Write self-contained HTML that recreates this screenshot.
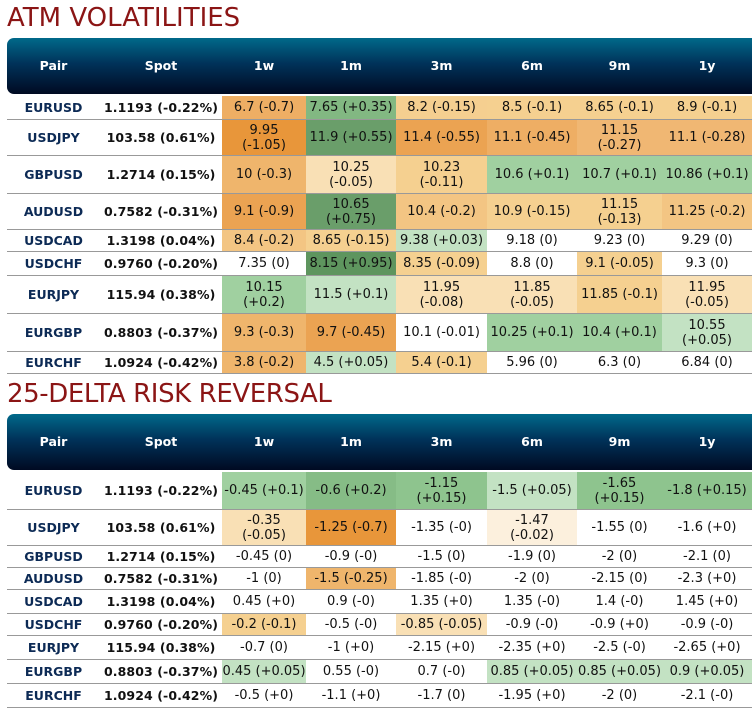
<!DOCTYPE html>
<html><head><meta charset="utf-8"><style>
body{margin:0;width:752px;height:710px;background:#fff;position:relative;overflow:hidden;font-family:"DejaVu Sans","Liberation Sans",sans-serif;}
.title{position:absolute;left:7px;color:#8b1515;font-size:26px;line-height:30px;white-space:nowrap;}
.hdr{position:absolute;left:7px;width:760px;height:56px;border-radius:7px;background:linear-gradient(#00698a,#00335a 45%,#000a22);}
.hc{position:absolute;top:0;height:56px;line-height:56px;text-align:center;color:#fff;font-weight:bold;font-size:12.5px;}
.row{position:absolute;left:7px;width:745px;border-bottom:1px solid #999;box-sizing:border-box;}
.c{position:absolute;top:0;bottom:0;display:flex;align-items:center;justify-content:center;text-align:center;font-size:13px;letter-spacing:0;line-height:15px;color:#111;white-space:nowrap;}
.pair{font-weight:bold;color:#0c2a55;font-size:12.5px;letter-spacing:0;}
.spot{font-weight:bold;font-size:12.5px;letter-spacing:0.1px;}
</style></head><body>
<div class="title" style="top:3px">ATM VOLATILITIES</div>
<div class="title" style="top:379px;letter-spacing:-0.4px">25-DELTA RISK REVERSAL</div>
<script>
const pairs=["EURUSD","USDJPY","GBPUSD","AUDUSD","USDCAD","USDCHF","EURJPY","EURGBP","EURCHF"];
const spots=["1.1193 (-0.22%)","103.58 (0.61%)","1.2714 (0.15%)","0.7582 (-0.31%)","1.3198 (0.04%)","0.9760 (-0.20%)","115.94 (0.38%)","0.8803 (-0.37%)","1.0924 (-0.42%)"];
const tenors=["1w","1m","3m","6m","9m","1y"];
const atm=[
["6.7 (-0.7)","7.65 (+0.35)","8.2 (-0.15)","8.5 (-0.1)","8.65 (-0.1)","8.9 (-0.1)"],
["9.95|(-1.05)","11.9 (+0.55)","11.4 (-0.55)","11.1 (-0.45)","11.15|(-0.27)","11.1 (-0.28)"],
["10 (-0.3)","10.25|(-0.05)","10.23|(-0.11)","10.6 (+0.1)","10.7 (+0.1)","10.86 (+0.1)"],
["9.1 (-0.9)","10.65|(+0.75)","10.4 (-0.2)","10.9 (-0.15)","11.15|(-0.13)","11.25 (-0.2)"],
["8.4 (-0.2)","8.65 (-0.15)","9.38 (+0.03)","9.18 (0)","9.23 (0)","9.29 (0)"],
["7.35 (0)","8.15 (+0.95)","8.35 (-0.09)","8.8 (0)","9.1 (-0.05)","9.3 (0)"],
["10.15|(+0.2)","11.5 (+0.1)","11.95|(-0.08)","11.85|(-0.05)","11.85 (-0.1)","11.95|(-0.05)"],
["9.3 (-0.3)","9.7 (-0.45)","10.1 (-0.01)","10.25 (+0.1)","10.4 (+0.1)","10.55|(+0.05)"],
["3.8 (-0.2)","4.5 (+0.05)","5.4 (-0.1)","5.96 (0)","6.3 (0)","6.84 (0)"]];
const atmColors=[
["#eeae64","#82b882","#f5cf90","#f5d090","#f5d090","#f5d090"],
["#e8963a","#6a9e6a","#eba352","#eeae64","#f0b773","#f0b773"],
["#efb56c","#f9e0b5","#f5d090","#a0d0a0","#a0d0a0","#a0d0a0"],
["#eba352","#6a9e6a","#f3c583","#f5d090","#f5d090","#f3c583"],
["#f3c583","#f5d090","#c3e2c3","#fff","#fff","#fff"],
["#fff","#5e955e","#f5d090","#fff","#f5d090","#fff"],
["#a0d0a0","#c3e2c3","#f9e0b5","#f9e0b5","#f5d090","#f9e0b5"],
["#efb56c","#eba352","#fff","#a0d0a0","#a0d0a0","#c3e2c3"],
["#efb56c","#c3e2c3","#f5d090","#fff","#fff","#fff"]];
const rr=[
["-0.45 (+0.1)","-0.6 (+0.2)","-1.15|(+0.15)","-1.5 (+0.05)","-1.65|(+0.15)","-1.8 (+0.15)"],
["-0.35|(-0.05)","-1.25 (-0.7)","-1.35 (-0)","-1.47|(-0.02)","-1.55 (0)","-1.6 (+0)"],
["-0.45 (0)","-0.9 (-0)","-1.5 (0)","-1.9 (0)","-2 (0)","-2.1 (0)"],
["-1 (0)","-1.5 (-0.25)","-1.85 (-0)","-2 (0)","-2.15 (0)","-2.3 (+0)"],
["0.45 (+0)","0.9 (-0)","1.35 (+0)","1.35 (-0)","1.4 (-0)","1.45 (+0)"],
["-0.2 (-0.1)","-0.5 (-0)","-0.85 (-0.05)","-0.9 (-0)","-0.9 (+0)","-0.9 (-0)"],
["-0.7 (0)","-1 (+0)","-2.15 (+0)","-2.35 (+0)","-2.5 (-0)","-2.65 (+0)"],
["0.45 (+0.05)","0.55 (-0)","0.7 (-0)","0.85 (+0.05)","0.85 (+0.05)","0.9 (+0.05)"],
["-0.5 (+0)","-1.1 (+0)","-1.7 (0)","-1.95 (+0)","-2 (0)","-2.1 (-0)"]];
const rrColors=[
["#a0d0a0","#86bc86","#8ec48e","#c3e2c3","#8ec48e","#8ec48e"],
["#f9e0b5","#e8963a","#fff","#fcf0dd","#fff","#fff"],
["#fff","#fff","#fff","#fff","#fff","#fff"],
["#fff","#efb56c","#fff","#fff","#fff","#fff"],
["#fff","#fff","#fff","#fff","#fff","#fff"],
["#f5d090","#fff","#f9e0b5","#fff","#fff","#fff"],
["#fff","#fff","#fff","#fff","#fff","#fff"],
["#c3e2c3","#fff","#fff","#c3e2c3","#c3e2c3","#c3e2c3"],
["#fff","#fff","#fff","#fff","#fff","#fff"]];
const colX=[0,93,215,299,389,480,570,655,745];
function build(prefix,hdrTop,rowTop,heights,vals,cols){
  const h=document.createElement('div');h.className='hdr';h.style.top=hdrTop+'px';
  
  
  const labels=["Pair","Spot"].concat(tenors);
  labels.forEach((l,i)=>{const c=document.createElement('div');c.className='hc';c.style.left=colX[i]+'px';c.style.width=(colX[i+1]-colX[i])+'px';c.textContent=l;
    
    
    h.appendChild(c);});
  document.body.appendChild(h);
  let y=rowTop;
  pairs.forEach((p,r)=>{
    const row=document.createElement('div');row.className='row';row.style.top=y+'px';row.style.height=heights[r]+'px';
    
    
    const cells=[p,spots[r]].concat(vals[r]);
    cells.forEach((t,i)=>{const c=document.createElement('div');c.className='c'+(i==0?' pair':i==1?' spot':'');
      c.style.left=colX[i]+'px';c.style.width=(colX[i+1]-colX[i])+'px';
      c.style.bottom='0';
      if(i>1)c.style.background=cols[r][i-2];
      c.innerHTML=t.split('|').join('<br>');
      
      
      row.appendChild(c);});
    document.body.appendChild(row);
    y+=heights[r];
  });
}
build('atm',38,96,[24,36,38,36,22,24,38,38,22],atm,atmColors);
build('rr',414,472,[38,36,22,22,24,22,24,24,24],rr,rrColors);
</script>
</body></html>
